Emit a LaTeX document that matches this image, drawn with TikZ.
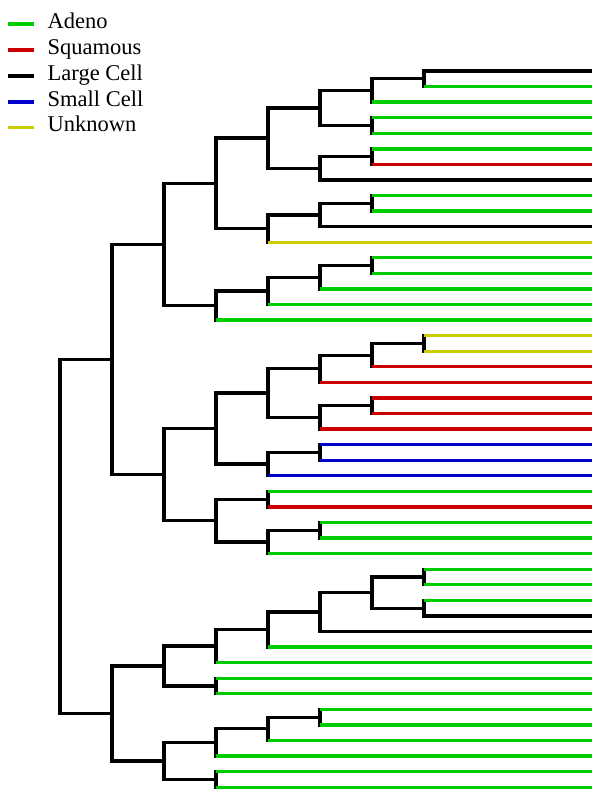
\documentclass[tikz,border=0pt]{standalone}
\usepackage{fontspec}
\setmainfont{Liberation Serif}
\usetikzlibrary{calc}

\definecolor{adenoC}{RGB}{0,204,0}
\definecolor{squamC}{RGB}{204,0,0}
\definecolor{largeC}{RGB}{0,0,0}
\definecolor{smallC}{RGB}{0,0,204}
\definecolor{unknC}{RGB}{204,204,0}

\tikzset{
  tree/.style={line width=3.3pt},
  branch/.style={tree, draw=black},
  ad/.style={tree, draw=adenoC},
  sq/.style={tree, draw=squamC},
  lc/.style={tree, draw=largeC},
  sc/.style={tree, draw=smallC},
  un/.style={tree, draw=unknC},
  keytext/.style={inner sep=0pt, anchor=base west, font=\fontsize{22.5}{26}\selectfont},
}

% a clade: joint at x = #2, halfway between its two children, with its vertical bar
\newcommand\clade[4]{%
  \path let \p1 = ($(#3)!.5!(#4)$) in coordinate (#1) at (#2pt,\y1);
  \draw[branch, line cap=rect] (#1 |- #3) -- (#1 |- #4);
}

\begin{document}
\begin{tikzpicture}[x=1pt, y=-1pt]
\useasboundingbox (0,0) rectangle (593,790);

% leaf tips at the right edge
\foreach \i in {1,...,47}
  \coordinate (l\i) at (592, {71+(\i-1)*15.57});

% joints, from the tips inward
\clade{n1t2}{424}{l1}{l2}
\clade{n1t3}{372}{n1t2}{l3}
\clade{n4t5}{372}{l4}{l5}
\clade{n1t5}{320}{n1t3}{n4t5}
\clade{n6t7}{372}{l6}{l7}
\clade{n6t8}{320}{n6t7}{l8}
\clade{n1t8}{268}{n1t5}{n6t8}
\clade{n9t10}{372}{l9}{l10}
\clade{n9t11}{320}{n9t10}{l11}
\clade{n9t12}{268}{n9t11}{l12}
\clade{n1t12}{216}{n1t8}{n9t12}
\clade{n13t14}{372}{l13}{l14}
\clade{n13t15}{320}{n13t14}{l15}
\clade{n13t16}{268}{n13t15}{l16}
\clade{n13t17}{216}{n13t16}{l17}
\clade{n1t17}{164}{n1t12}{n13t17}
\clade{n18t19}{424}{l18}{l19}
\clade{n18t20}{372}{n18t19}{l20}
\clade{n18t21}{320}{n18t20}{l21}
\clade{n22t23}{372}{l22}{l23}
\clade{n22t24}{320}{n22t23}{l24}
\clade{n18t24}{268}{n18t21}{n22t24}
\clade{n25t26}{320}{l25}{l26}
\clade{n25t27}{268}{n25t26}{l27}
\clade{n18t27}{216}{n18t24}{n25t27}
\clade{n28t29}{268}{l28}{l29}
\clade{n30t31}{320}{l30}{l31}
\clade{n30t32}{268}{n30t31}{l32}
\clade{n28t32}{216}{n28t29}{n30t32}
\clade{n18t32}{164}{n18t27}{n28t32}
\clade{n1t32}{112}{n1t17}{n18t32}
\clade{n33t34}{424}{l33}{l34}
\clade{n35t36}{424}{l35}{l36}
\clade{n33t36}{372}{n33t34}{n35t36}
\clade{n33t37}{320}{n33t36}{l37}
\clade{n33t38}{268}{n33t37}{l38}
\clade{n33t39}{216}{n33t38}{l39}
\clade{n40t41}{216}{l40}{l41}
\clade{n33t41}{164}{n33t39}{n40t41}
\clade{n42t43}{320}{l42}{l43}
\clade{n42t44}{268}{n42t43}{l44}
\clade{n42t45}{216}{n42t44}{l45}
\clade{n46t47}{216}{l46}{l47}
\clade{n42t47}{164}{n42t45}{n46t47}
\clade{n33t47}{112}{n33t41}{n42t47}
\clade{root}{60}{n1t32}{n33t47}

% coloured leaf branches: tip / type / parent joint
\foreach \i/\c/\p in {
  1/lc/n1t2, 2/ad/n1t2, 3/ad/n1t3, 4/ad/n4t5, 5/ad/n4t5,
  6/ad/n6t7, 7/sq/n6t7, 8/lc/n6t8, 9/ad/n9t10, 10/ad/n9t10,
  11/lc/n9t11, 12/un/n9t12, 13/ad/n13t14, 14/ad/n13t14, 15/ad/n13t15,
  16/ad/n13t16, 17/ad/n13t17, 18/un/n18t19, 19/un/n18t19, 20/sq/n18t20,
  21/sq/n18t21, 22/sq/n22t23, 23/sq/n22t23, 24/sq/n22t24, 25/sc/n25t26,
  26/sc/n25t26, 27/sc/n25t27, 28/ad/n28t29, 29/sq/n28t29, 30/ad/n30t31,
  31/ad/n30t31, 32/ad/n30t32, 33/ad/n33t34, 34/ad/n33t34, 35/ad/n35t36,
  36/lc/n35t36, 37/lc/n33t37, 38/ad/n33t38, 39/ad/n33t39, 40/ad/n40t41,
  41/ad/n40t41, 42/ad/n42t43, 43/ad/n42t43, 44/ad/n42t44, 45/ad/n42t45,
  46/ad/n46t47, 47/ad/n46t47}
  \draw[\c] (\p |- l\i) -- (l\i);

% black branches between joints: parent / child
\foreach \p/\c in {
  n1t3/n1t2, n1t5/n1t3, n1t5/n4t5, n1t8/n1t5, n6t8/n6t7, n1t8/n6t8,
  n9t11/n9t10, n9t12/n9t11, n1t12/n1t8, n1t12/n9t12,
  n13t15/n13t14, n13t16/n13t15, n13t17/n13t16, n1t17/n1t12, n1t17/n13t17,
  n18t20/n18t19, n18t21/n18t20, n22t24/n22t23, n18t24/n18t21, n18t24/n22t24,
  n25t27/n25t26, n18t27/n18t24, n18t27/n25t27, n30t32/n30t31,
  n28t32/n28t29, n28t32/n30t32, n18t32/n18t27, n18t32/n28t32,
  n1t32/n1t17, n1t32/n18t32,
  n33t36/n33t34, n33t36/n35t36, n33t37/n33t36, n33t38/n33t37, n33t39/n33t38,
  n33t41/n33t39, n33t41/n40t41, n42t44/n42t43, n42t45/n42t44,
  n42t47/n42t45, n42t47/n46t47, n33t47/n33t41, n33t47/n42t47,
  root/n1t32, root/n33t47}
  \draw[branch] (\p |- \c) -- (\c);

% legend
\foreach \k/\c/\t/\y in {A/ad/Adeno/24, B/sq/Squamous/50, C/lc/Large Cell/76,
                         D/sc/Small Cell/102, E/un/Unknown/127.5} {
  \coordinate (k\k1) at (8.3,\y);
  \coordinate (k\k2) at (34,\y);
  \draw[\c] (k\k1) -- (k\k2);
  \node[keytext] (t\k) at (47.5,\y+4.3) {\t};
}
\end{tikzpicture}
\end{document}
